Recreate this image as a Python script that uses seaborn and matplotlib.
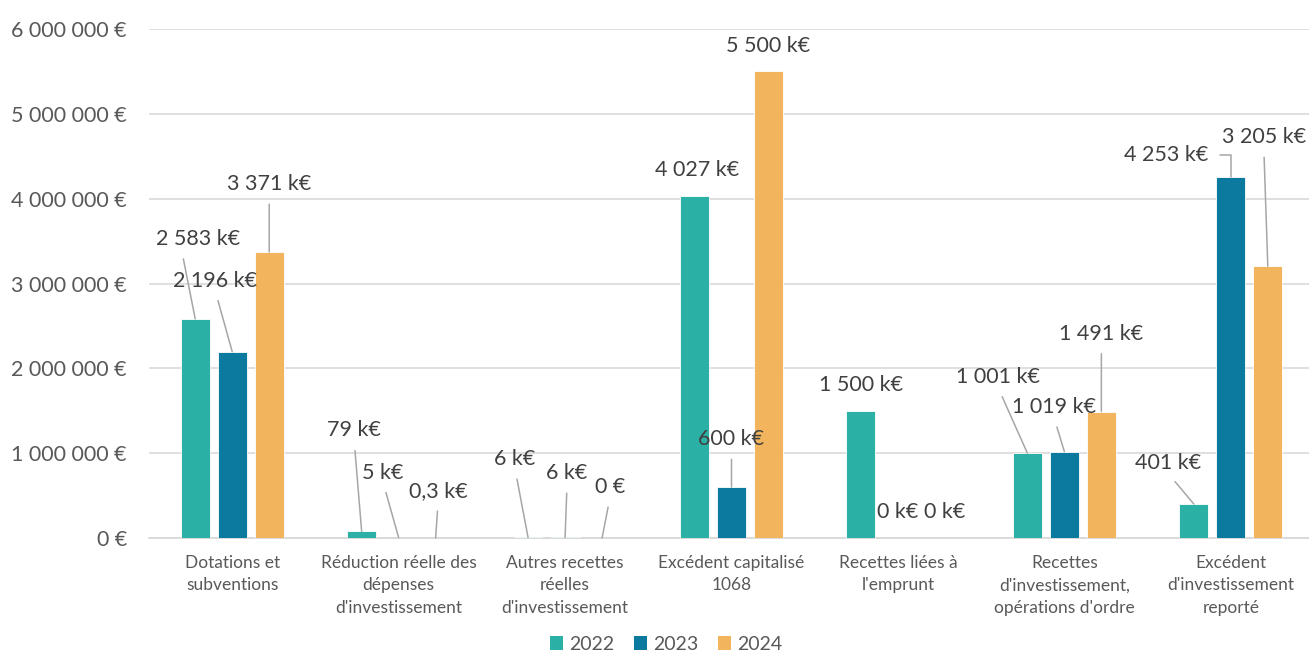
import matplotlib
matplotlib.use("Agg")
import matplotlib.pyplot as plt
from matplotlib.patches import Patch
from matplotlib.ticker import FuncFormatter
import numpy as np
import pandas as pd
import seaborn as sns

# ---- data (euros) ----
categories = [
    "Dotations et\nsubventions",
    "Réduction réelle des\ndépenses\nd'investissement",
    "Autres recettes\nréelles\nd'investissement",
    "Excédent capitalisé\n1068",
    "Recettes liées à\nl'emprunt",
    "Recettes\nd'investissement,\nopérations d'ordre",
    "Excédent\nd'investissement\nreporté",
]
years = ["2022", "2023", "2024"]
values_2022 = [2583000, 79000, 6000, 4027000, 1500000, 1001000, 401000]
values_2023 = [2196000, 5000, 6000, 600000, 20, 1019000, 4253000]
values_2024 = [3371000, 300, 0, 5500000, 20, 1491000, 3205000]
yticks = [0, 1000000, 2000000, 3000000, 4000000, 5000000, 6000000]

colors = ["#2BB0A5", "#0B7A9E", "#F2B55E"]

# label placement: (dx px, dy px, leader kind, leader anchor on text)
label_layout = {
    "2022": [(3, 80, "line", 0.3), (-7.5, 101, "line", 0.5), (-13, 78.5, "line", 0.5),
             (2.5, 26, None, 0.5), (0, 25.5, None, 0.5), (-29.5, 76, "line", 0.5),
             (-26, 41, "line", 0.5)],
    "2023": [(-17, 71, "line", 0.5), (-15.5, 65, "line", 0.5), (2, 64.5, "line", 0.5),
             (0, 48, "line", 0.5), (0, 26, None, 0.5), (-10.5, 44.5, "line", 0.5),
             (-65, 22.5, "elbow", 1.0)],
    "2024": [(0, 68, "line", 0.5), (2.5, 47, "line", 0.5), (8, 51, "line", 0.5),
             (0, 25.5, None, 0.5), (10, 26, None, 0.5), (0, 78, "line", 0.5),
             (-4, 129, "line", 0.5)],
}

series = {"2022": values_2022, "2023": values_2023, "2024": values_2024}
df = pd.DataFrame(
    [(c, y, v) for y in years for c, v in zip(categories, series[y])],
    columns=["categorie", "annee", "valeur"],
)


def fmt_keur(v):
    if v == 0:
        return "0 €"
    k = v / 1000.0
    if k < 1 and round(k, 1) > 0:
        return f"{k:.1f}".replace(".", ",") + " k€"
    return f"{int(round(k)):,}".replace(",", " ") + " k€"


sns.set_theme(style="white")
plt.rcParams["font.family"] = ["Lato", "DejaVu Sans"]

W, H = 1309, 655
fig = plt.figure(figsize=(W / 100, H / 100), dpi=100)
ax = fig.add_axes([149 / W, 117 / H, 1165 / W, 509 / H])

sns.barplot(
    data=df, x="categorie", y="valeur", hue="annee", hue_order=years,
    palette=colors, saturation=1, width=0.667, gap=0.22,
    edgecolor="white", linewidth=0.6, ax=ax, zorder=2,
)
ax.get_legend().remove()

ax.set_ylim(0, 6000000)
ax.set_yticks(yticks)
ax.yaxis.set_major_formatter(FuncFormatter(lambda v, p: f"{int(v):,}".replace(",", " ") + " €"))
ax.yaxis.grid(True, color="#D9D9D9", linewidth=1.2)
ax.set_axisbelow(True)
ax.axhline(0, color="#D9D9D9", linewidth=1.4, zorder=1, clip_on=False)
for s in ax.spines.values():
    s.set_visible(False)
ax.tick_params(axis="y", length=0, pad=16, labelsize=15.5, labelcolor="#595959")
ax.tick_params(axis="x", length=0, pad=12, labelsize=12.5, labelcolor="#595959")
ax.set_xticks(range(len(categories)))
ax.set_xticklabels(categories, linespacing=1.5, va="top")
ax.set_xlabel("")
ax.set_ylabel("")
ax.set_xlim(-0.5, len(categories) - 0.5)

# data labels with leader lines
for year, container in zip(years, ax.containers):
    for bar, v, (dx, dy, kind, rx) in zip(container.patches, series[year], label_layout[year]):
        xc = bar.get_x() + bar.get_width() / 2
        top = bar.get_height()
        arrow = None
        if kind == "line":
            arrow = dict(arrowstyle="-", color="#A6A6A6", lw=1.1,
                         relpos=(rx, 0.0), shrinkA=5, shrinkB=0)
        elif kind == "elbow":
            arrow = dict(arrowstyle="-", color="#A6A6A6", lw=1.1,
                         relpos=(rx, 0.5), shrinkA=6, shrinkB=0,
                         connectionstyle="angle,angleA=0,angleB=90,rad=0")
        ax.annotate(
            fmt_keur(v), xy=(xc, top), xytext=(dx, dy), textcoords="offset pixels",
            ha="center", va="center", fontsize=15.5, color="#404040",
            arrowprops=arrow, annotation_clip=False, zorder=5,
        )

handles = [Patch(facecolor=c, edgecolor="none") for c in colors]
fig.legend(
    handles, years, loc="center", bbox_to_anchor=(666 / W, 1 - 644 / H),
    ncol=3, frameon=False, fontsize=14, handlelength=0.7, handleheight=0.7,
    handletextpad=0.3, columnspacing=1.0, labelcolor="#595959",
)

fig.savefig("out.png", dpi=100)
